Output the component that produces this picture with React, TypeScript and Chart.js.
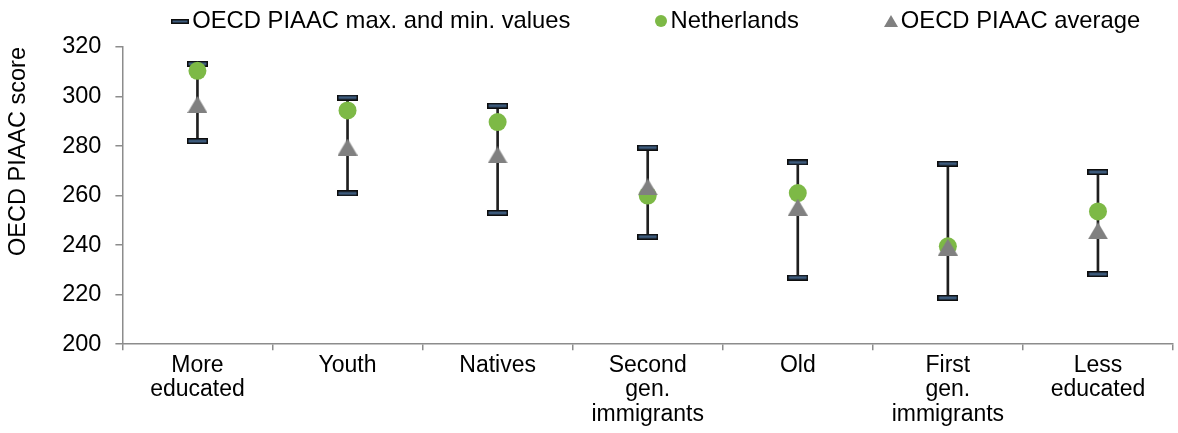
import React, { useEffect, useRef } from 'react';
import { Chart, registerables } from 'chart.js';

Chart.register(...registerables);

// ---- Data ----
const categoryLabels: string[][] = [
  ['More', 'educated'],
  ['Youth'],
  ['Natives'],
  ['Second', 'gen.', 'immigrants'],
  ['Old'],
  ['First', 'gen.', 'immigrants'],
  ['Less', 'educated'],
];
const maxValues = [313.2, 299.6, 296.3, 279.4, 273.4, 272.9, 269.5];
const minValues = [282.0, 260.9, 253.0, 243.4, 226.9, 218.7, 228.3];
const netherlandsValues = [310.4, 294.4, 289.7, 260.0, 261.0, 239.5, 253.6];
const oecdAverageValues = [296.8, 279.6, 276.4, 263.5, 255.3, 239.2, 245.8];
const seriesNames = ['OECD PIAAC max. and min. values', 'Netherlands', 'OECD PIAAC average'];
const yAxisTitle = 'OECD PIAAC score';
const yAxisMin = 200;
const yAxisMax = 320;
const yAxisStep = 20;

// ---- Styles ----
const FONT = "'Liberation Sans', Arial, sans-serif";
const GREEN = '#7db946';
const GRAY = '#808080';
const CAP_FILL = '#3d5b7d';
const AXIS = '#8c8c8c';

function makeCanvas(w: number, h: number, draw: (ctx: CanvasRenderingContext2D) => void) {
  const c = document.createElement('canvas');
  c.width = w;
  c.height = h;
  const ctx = c.getContext('2d')!;
  draw(ctx);
  return c;
}

function capImage(w: number, h: number) {
  return makeCanvas(w, h, (ctx) => {
    ctx.fillStyle = '#0d0d0d';
    ctx.fillRect(0, 0, w, h);
    ctx.fillStyle = CAP_FILL;
    ctx.fillRect(1.5, 1.5, w - 3, h - 3);
  });
}

function triangleImage(w: number, h: number) {
  return makeCanvas(w, h, (ctx) => {
    ctx.fillStyle = GRAY;
    ctx.beginPath();
    ctx.moveTo(w / 2, 0);
    ctx.lineTo(w, h);
    ctx.lineTo(0, h);
    ctx.closePath();
    ctx.fill();
  });
}

function circleImage(d: number) {
  return makeCanvas(d, d, (ctx) => {
    ctx.fillStyle = GREEN;
    ctx.beginPath();
    ctx.arc(d / 2, d / 2, d / 2, 0, Math.PI * 2);
    ctx.fill();
  });
}

export default function App() {
  const canvasRef = useRef<HTMLCanvasElement | null>(null);

  useEffect(() => {
    const canvas = canvasRef.current;
    if (!canvas) return;

    const capImg = capImage(21, 6);
    const triImg = triangleImage(20, 17);
    const legendMarkers = [capImage(18, 5), circleImage(12), triangleImage(14, 12)];

    const legendPlugin = {
      id: 'customLegend',
      afterDraw(chart: any) {
        const ctx: CanvasRenderingContext2D = chart.ctx;
        const area = chart.chartArea;
        ctx.save();
        ctx.font = `23.8px ${FONT}`;
        ctx.fillStyle = '#000';
        ctx.textBaseline = 'alphabetic';
        const markerGap = 3;
        const itemGap = 85;
        const widths = seriesNames.map(
          (t, i) => legendMarkers[i].width + markerGap + ctx.measureText(t).width
        );
        const total = widths.reduce((a, b) => a + b, 0) + itemGap * (seriesNames.length - 1);
        let x = (area.left + area.right) / 2 - total / 2 + 8;
        const centerY = 21;
        seriesNames.forEach((t, i) => {
          const m = legendMarkers[i];
          ctx.drawImage(m, Math.round(x), Math.round(centerY - m.height / 2));
          ctx.fillText(t, x + m.width + markerGap, 28);
          x += widths[i] + itemGap;
        });
        ctx.restore();
      },
    };

    const chart = new Chart(canvas, {
      type: 'bar',
      data: {
        labels: categoryLabels,
        datasets: [
          {
            type: 'bar',
            label: seriesNames[0],
            data: minValues.map((m, i) => [m, maxValues[i]]) as any,
            backgroundColor: '#1f1f1f',
            borderWidth: 0,
            barThickness: 2,
            order: 5,
          },
          {
            type: 'line',
            label: 'max',
            data: maxValues,
            showLine: false,
            pointStyle: capImg as any,
            pointRadius: 5,
            order: 4,
          },
          {
            type: 'line',
            label: 'min',
            data: minValues,
            showLine: false,
            pointStyle: capImg as any,
            pointRadius: 5,
            order: 3,
          },
          {
            type: 'line',
            label: seriesNames[1],
            data: netherlandsValues,
            showLine: false,
            pointStyle: 'circle',
            pointRadius: 9,
            pointBackgroundColor: GREEN,
            pointBorderWidth: 0,
            order: 2,
          },
          {
            type: 'line',
            label: seriesNames[2],
            data: oecdAverageValues,
            showLine: false,
            pointStyle: triImg as any,
            pointRadius: 5,
            order: 1,
          },
        ],
      },
      options: {
        animation: false,
        responsive: false,
        maintainAspectRatio: false,
        layout: { padding: { left: 0, right: 1, top: 47, bottom: 3 } },
        plugins: {
          legend: { display: false },
          tooltip: { enabled: false },
        },
        scales: {
          x: {
            offset: true,
            grid: {
              offset: true,
              drawOnChartArea: false,
              drawTicks: true,
              tickLength: 6,
              color: AXIS,
              lineWidth: 1.5,
            },
            border: { color: AXIS, width: 1.5 },
            ticks: {
              color: '#000',
              font: { family: FONT, size: 23, lineHeight: 1.07 },
              padding: 3,
              maxRotation: 0,
              autoSkip: false,
            },
          },
          y: {
            min: yAxisMin,
            max: yAxisMax,
            grid: {
              drawOnChartArea: false,
              drawTicks: true,
              tickLength: 7,
              color: AXIS,
              lineWidth: 1.5,
            },
            border: { color: AXIS, width: 1.5 },
            ticks: {
              stepSize: yAxisStep,
              color: '#000',
              font: { family: FONT, size: 23.5 },
              padding: 14,
            },
            title: {
              display: true,
              text: yAxisTitle,
              align: 'end',
              color: '#000',
              font: { family: FONT, size: 23.5 },
              padding: { top: 4, bottom: 16 },
            },
          },
        },
      },
      plugins: [legendPlugin],
    });

    return () => chart.destroy();
  }, []);

  return (
    <div
      style={{
        position: 'absolute',
        left: 0,
        top: 0,
        width: 1178,
        height: 433,
        overflow: 'hidden',
        background: '#fff',
      }}
    >
      <canvas ref={canvasRef} width={1182} height={433} style={{ display: 'block' }} />
    </div>
  );
}
